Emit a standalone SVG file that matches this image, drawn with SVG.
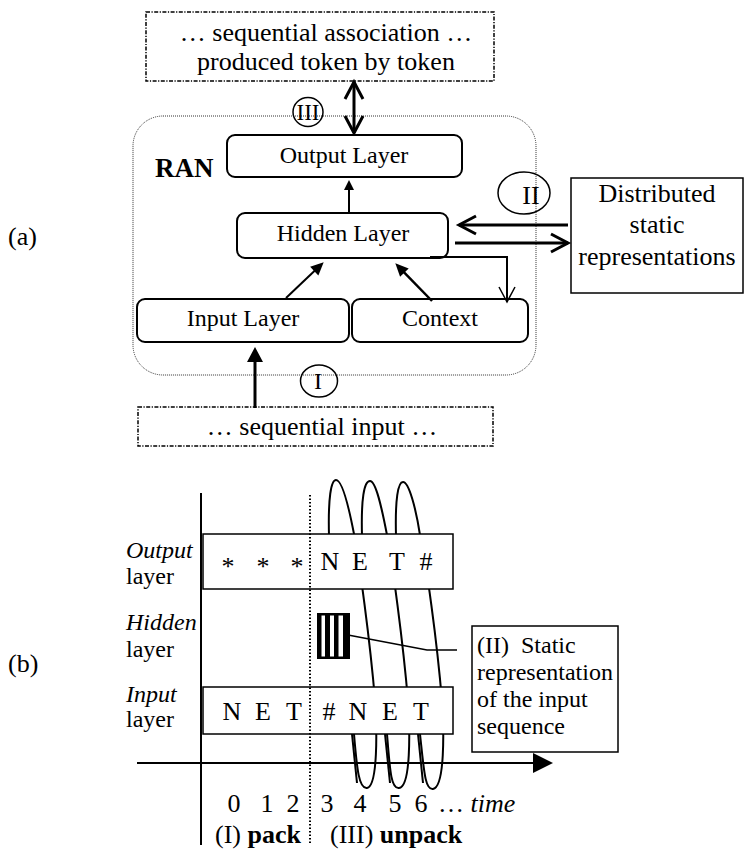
<svg xmlns="http://www.w3.org/2000/svg" width="744" height="850" viewBox="0 0 744 850">
  <style>
    .t { font-family: "Liberation Serif", "Times New Roman", serif; fill: #000; }
    .c { text-anchor: middle; }
    .i { font-style: italic; }
    .b { font-weight: bold; }
    .box { fill: #fff; stroke: #000; stroke-width: 1.5; }
    .rbox { fill: #fff; stroke: #000; stroke-width: 2; }
    .dash { fill: #fff; stroke: #000; stroke-width: 1.5; stroke-dasharray: 4 1.5 1.2 1.5; }
    .ran { fill: none; stroke: #333; stroke-width: 1; stroke-dasharray: 1 1; }
    .ln { fill: none; stroke: #000; }
    .coil { fill: none; stroke: #000; stroke-width: 2; }
  </style>
  <defs>
    <marker id="triS" markerUnits="userSpaceOnUse" markerWidth="12" markerHeight="12" refX="6" refY="5" orient="auto" overflow="visible">
      <path d="M0,0 L10,5 L0,10 z" fill="#000"/>
    </marker>
    <marker id="triM" markerUnits="userSpaceOnUse" markerWidth="14" markerHeight="14" refX="6" refY="6" orient="auto" overflow="visible">
      <path d="M0,0 L13,6 L0,12 z" fill="#000"/>
    </marker>
    <marker id="triL" markerUnits="userSpaceOnUse" markerWidth="16" markerHeight="16" refX="8" refY="8" orient="auto" overflow="visible">
      <path d="M0,0 L15,8 L0,16 z" fill="#000"/>
    </marker>
    <marker id="triXL" markerUnits="userSpaceOnUse" markerWidth="22" markerHeight="22" refX="10" refY="10" orient="auto" overflow="visible">
      <path d="M0,0 L20,10 L0,20 z" fill="#000"/>
    </marker>
    <marker id="chev" markerUnits="userSpaceOnUse" markerWidth="20" markerHeight="20" refX="17" refY="9" orient="auto-start-reverse" overflow="visible">
      <path d="M0,0 L17,9 L0,18" fill="none" stroke="#000" stroke-width="3"/>
    </marker>
    <marker id="chevThin" markerUnits="userSpaceOnUse" markerWidth="18" markerHeight="18" refX="15" refY="8" orient="auto" overflow="visible">
      <path d="M0,0 L15,8 L0,16" fill="none" stroke="#000" stroke-width="1.5"/>
    </marker>
  </defs>

  <!-- ===== (a) recurrent network architecture ===== -->
  <text class="t" x="8" y="245" font-size="26">(a)</text>

  <!-- RAN boundary -->
  <g id="ran">
    <rect class="ran" x="133" y="116" width="403" height="259" rx="30"/>
    <text class="t b" x="155" y="177" font-size="27">RAN</text>
  </g>

  <g id="seq-association">
    <rect class="dash" x="146" y="12" width="348" height="69"/>
    <text class="t c" x="326" y="41" font-size="26">… sequential association …</text>
    <text class="t c" x="326" y="70" font-size="26">produced token by token</text>
  </g>

  <g id="output-layer">
    <rect class="rbox" x="227" y="135" width="235" height="42" rx="8"/>
    <text class="t c" x="344" y="163" font-size="24">Output Layer</text>
  </g>

  <g id="hidden-layer">
    <rect class="rbox" x="237" y="213" width="211" height="45" rx="8"/>
    <text class="t c" x="343" y="241" font-size="24">Hidden Layer</text>
  </g>

  <g id="input-layer">
    <rect class="rbox" x="137" y="299" width="212" height="43" rx="8"/>
    <text class="t c" x="243" y="326" font-size="24">Input Layer</text>
  </g>

  <g id="context">
    <rect class="rbox" x="352" y="299" width="176" height="43" rx="8"/>
    <text class="t c" x="440" y="326" font-size="24">Context</text>
  </g>

  <g id="distributed">
    <rect class="box" x="571" y="178" width="172" height="115"/>
    <text class="t c" x="657" y="202" font-size="26">Distributed</text>
    <text class="t c" x="657" y="233" font-size="26">static</text>
    <text class="t c" x="657" y="265" font-size="26">representations</text>
  </g>

  <g id="seq-input">
    <rect class="dash" x="138" y="407" width="355" height="39"/>
    <text class="t c" x="322" y="435" font-size="26">… sequential input …</text>
  </g>

  <!-- phase markers -->
  <g id="phase-III">
    <ellipse cx="308" cy="112" rx="15" ry="14.5" fill="none" stroke="#000" stroke-width="1.5"/>
    <text class="t c" x="308" y="120" font-size="23">III</text>
  </g>
  <g id="phase-II">
    <ellipse cx="524" cy="193" rx="26" ry="21" fill="none" stroke="#000" stroke-width="1.5"/>
    <text class="t c" x="531" y="204" font-size="26">II</text>
  </g>
  <g id="phase-I">
    <ellipse cx="319" cy="381" rx="18.5" ry="16" fill="none" stroke="#000" stroke-width="1.5"/>
    <text class="t c" x="318" y="389" font-size="24">I</text>
  </g>

  <g id="connectors">
    <!-- output layer <-> produced sequence -->
    <line class="ln" x1="354" y1="82" x2="354" y2="133" stroke-width="3" marker-start="url(#chev)" marker-end="url(#chev)"/>
    <!-- hidden -> output -->
    <line class="ln" x1="349" y1="213" x2="349" y2="184" stroke-width="2" marker-end="url(#triS)"/>
    <!-- input -> hidden -->
    <line class="ln" x1="286" y1="298" x2="318.6" y2="267.1" stroke-width="2" marker-end="url(#triM)"/>
    <!-- context -> hidden -->
    <line class="ln" x1="432" y1="301" x2="400.2" y2="268.3" stroke-width="2.5" marker-end="url(#triM)"/>
    <!-- hidden -> context (copy) -->
    <path class="ln" d="M430,257 H507 V302" stroke-width="2" marker-end="url(#chevThin)"/>
    <!-- sequential input -> input layer -->
    <line class="ln" x1="255" y1="408" x2="255" y2="354" stroke-width="3" marker-end="url(#triL)"/>
    <!-- distributed representations <-> hidden layer -->
    <line class="ln" x1="568" y1="225" x2="459" y2="225" stroke-width="3" marker-end="url(#chev)"/>
    <line class="ln" x1="455" y1="243" x2="568" y2="243" stroke-width="3" marker-end="url(#chev)"/>
  </g>

  <!-- ===== (b) unfolding over time ===== -->
  <text class="t" x="8" y="672" font-size="26">(b)</text>

  <g id="row-labels">
    <text class="t i" x="126" y="558" font-size="24">Output</text>
    <text class="t" x="126" y="584" font-size="24">layer</text>
    <text class="t i" x="126" y="630" font-size="24">Hidden</text>
    <text class="t" x="126" y="657" font-size="24">layer</text>
    <text class="t i" x="126" y="702" font-size="24">Input</text>
    <text class="t" x="126" y="727" font-size="24">layer</text>
  </g>

  <!-- unpacking coil: one turn per produced token -->
  <g id="coil">
    <g>
      <path class="coil" d="M329,536 C328,498 331,480 336,480 C342,480 349,508 354,534 C359,560 370,640 375,700 C377,730 378,786 367,788 C359,789 357,770 354,734"/>
      <path class="coil" d="M352,734 L357,783"/>
    </g>
    <g transform="translate(33,1)">
      <path class="coil" d="M329,535 C328,498 331,480 337,480 C343,480 349,508 354,534 C359,560 370,640 375,700 C377,730 378,786 366,787 C358,788 357,770 354,733"/>
      <path class="coil" d="M352,733 L357,782"/>
    </g>
    <g transform="translate(67,1)">
      <path class="coil" d="M329,535 C328,498 331,481 336,481 C342,481 349,508 353,534 C359,560 370,640 375,700 C377,730 378,786 366,788 C358,789 357,770 353,733"/>
      <path class="coil" d="M351,733 L356,782"/>
    </g>
  </g>

  <g id="output-row">
    <rect class="box" x="203" y="534" width="250" height="55"/>
    <text class="t c" font-size="26" x="228 263 297" y="575">***</text>
    <text class="t c" font-size="26" x="330 360 397 426" y="570">NET#</text>
  </g>

  <g id="input-row">
    <rect class="box" x="203" y="687" width="250" height="47"/>
    <text class="t c" font-size="26" x="232 263 294 329 358 390 421" y="720">NET#NET</text>
  </g>

  <g id="hidden-state">
    <rect x="317" y="613" width="33" height="46" fill="#000"/>
    <rect x="321.5" y="615.5" width="3.5" height="41" fill="#fff"/>
    <rect x="330" y="615.5" width="4" height="41" fill="#fff"/>
    <rect x="338.5" y="615.5" width="4.5" height="41" fill="#fff"/>
  </g>

  <g id="static-note">
    <rect class="box" x="472" y="626" width="146" height="126"/>
    <text class="t" x="477" y="653" font-size="24" xml:space="preserve">(II)  Static</text>
    <text class="t" x="477" y="680" font-size="24">representation</text>
    <text class="t" x="477" y="707" font-size="24">of the input</text>
    <text class="t" x="477" y="734" font-size="24">sequence</text>
  </g>

  <g id="axes">
    <line class="ln" x1="201" y1="493" x2="201" y2="845" stroke-width="2"/>
    <line class="ln" x1="137" y1="763" x2="543" y2="763" stroke-width="2" marker-end="url(#triXL)"/>
    <line class="ln" x1="310" y1="495" x2="310" y2="845" stroke-width="2" stroke-dasharray="1.5 2"/>
    <path class="ln" d="M348,635 L427,650 H457" stroke-width="1.5"/>
  </g>

  <g id="time-labels">
    <text class="t c" font-size="26" x="234 267 293 327 360 395 421" y="812">0123456</text>
    <text class="t" font-size="26" x="438" y="812">… <tspan class="i">time</tspan></text>
    <text class="t" font-size="26" x="215" y="843">(I) <tspan class="b">pack</tspan></text>
    <text class="t" font-size="26" x="330" y="843">(III) <tspan class="b">unpack</tspan></text>
  </g>
</svg>
